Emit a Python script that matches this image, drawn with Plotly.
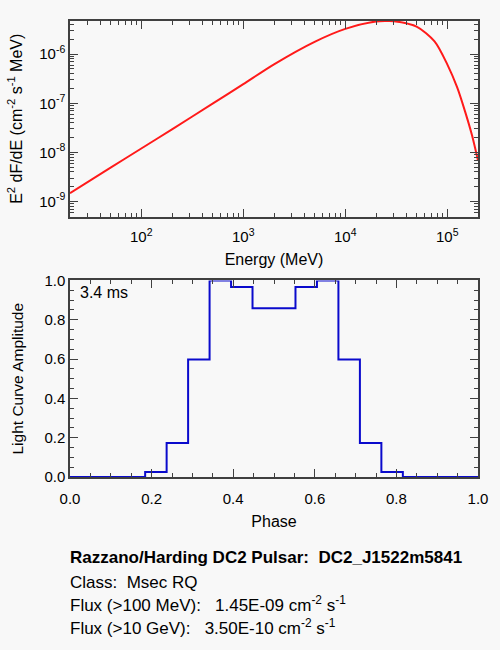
import numpy as np
import plotly.graph_objects as go

# spectrum
energy_mev = [20, 50, 100, 200, 500, 1000, 2000, 5000, 10000, 20000, 25000,
              30000, 50000, 75000, 100000, 125000, 150000, 175000, 200000]
e2dfde = [1.48e-9, 4.9e-9, 1.2e-8, 2.95e-8, 9.8e-8, 2.45e-7, 6.2e-7, 1.78e-6,
          3.27e-6, 4.62e-6, 4.72e-6, 4.68e-6, 3.63e-6, 1.82e-6, 6.2e-7, 2.1e-7,
          6.6e-8, 2.2e-8, 6.8e-9]

# light curve, 20 points at k/19
phase = [k / 19 for k in range(20)]
amplitude = [0, 0, 0, 0, 0.025, 0.173, 0.598, 1.0, 0.967, 0.858,
             0.858, 0.967, 1.0, 0.598, 0.173, 0.025, 0, 0, 0, 0]

spec_ticks = [1e2, 1e3, 1e4, 1e5]
spec_ticktext = ["10<sup>2</sup>", "10<sup>3</sup>", "10<sup>4</sup>", "10<sup>5</sup>"]
flux_ticks = [1e-9, 1e-8, 1e-7, 1e-6]
flux_ticktext = ["10<sup>-9</sup>", "10<sup>-8</sup>", "10<sup>-7</sup>", "10<sup>-6</sup>"]

name = "DC2_J1522m5841"
pulsar_class = "Msec RQ"
flux_100mev = "1.45E-09"
flux_10gev = "3.50E-10"
period = "3.4 ms"

FONT = "Liberation Sans, Arial, Helvetica, sans-serif"
BG = "#f8f8f8"
AX = "#404040"

fig = go.Figure()

fig.add_trace(
    go.Scatter(
        x=energy_mev,
        y=e2dfde,
        mode="lines",
        line=dict(color="#ff1a1a", width=2, shape="spline", smoothing=0.8),
        xaxis="x",
        yaxis="y",
        showlegend=False,
    )
)
fig.add_trace(
    go.Scatter(
        x=phase,
        y=amplitude,
        mode="lines",
        line=dict(color="#0a0acc", width=2, shape="hvh"),
        xaxis="x2",
        yaxis="y2",
        showlegend=False,
    )
)

minor_x = [m * 10 ** d for d in range(1, 6) for m in range(2, 10)]
minor_y = [m * 10 ** d for d in range(-10, -5) for m in range(2, 10)]

axis_common = dict(
    showgrid=False,
    zeroline=False,
    showline=True,
    linecolor=AX,
    linewidth=1.5,
    mirror="ticks",
    ticks="inside",
    tickcolor=AX,
    ticklen=8,
    tickfont=dict(size=15, color="black"),
)
minor_common = dict(ticks="inside", ticklen=4, tickcolor=AX, showgrid=False)

fig.update_layout(
    width=500,
    height=650,
    paper_bgcolor=BG,
    plot_bgcolor=BG,
    font=dict(family=FONT, size=15, color="black"),
    margin=dict(l=70, r=15, t=13, b=173),
    xaxis=dict(
        axis_common,
        type="log",
        range=[np.log10(20), np.log10(2e5)],
        domain=[0, 1],
        anchor="y",
        tickmode="array",
        tickvals=spec_ticks,
        ticktext=spec_ticktext,
        ticklabelstandoff=6,
        minor=dict(minor_common, tickmode="array", tickvals=minor_x),
        title=dict(text="Energy (MeV)", font=dict(size=16), standoff=9),
    ),
    yaxis=dict(
        axis_common,
        type="log",
        range=[np.log10(4.94e-10), np.log10(4.72e-6)],
        domain=[0.5711, 1],
        anchor="x",
        tickmode="array",
        tickvals=flux_ticks,
        ticktext=flux_ticktext,
        minor=dict(minor_common, tickmode="array", tickvals=minor_y),
        title=dict(
            text="E<sup>2</sup> dF/dE (cm<sup>-2</sup> s<sup>-1</sup> MeV)",
            font=dict(size=16),
            standoff=13,
        ),
    ),
    xaxis2=dict(
        axis_common,
        range=[0, 1],
        domain=[0, 1],
        anchor="y2",
        dtick=0.2,
        tickformat=".1f",
        ticklabelstandoff=7,
        minor=dict(minor_common, dtick=0.05),
        title=dict(text="Phase", font=dict(size=16), standoff=10),
    ),
    yaxis2=dict(
        axis_common,
        range=[0, 1],
        domain=[0, 0.431],
        anchor="x2",
        dtick=0.2,
        tickformat=".1f",
        minor=dict(minor_common, dtick=0.05),
        title=dict(text="Light Curve Amplitude", font=dict(size=15.5), standoff=17),
    ),
)

fig.add_annotation(
    text=period, xref="x2", yref="y2", x=0.02, y=0.94,
    xanchor="left", yanchor="middle", showarrow=False, font=dict(size=16),
)

info = [
    ("<b>Razzano/Harding DC2 Pulsar:  %s</b>" % name, 559),
    ("Class:  %s" % pulsar_class, 584),
    ("Flux (>100 MeV):   %s cm<sup>-2</sup> s<sup>-1</sup>" % flux_100mev, 606),
    ("Flux (>10 GeV):   %s cm<sup>-2</sup> s<sup>-1</sup>" % flux_10gev, 630),
]
for txt, ypix in info:
    fig.add_annotation(
        text=txt, xref="paper", yref="paper",
        x=(68 - 70) / 415, y=(477 - ypix) / 464,
        xanchor="left", yanchor="middle", showarrow=False,
        font=dict(size=17), align="left",
    )

fig.write_html(
    "out.html",
    config={"displayModeBar": False},
    post_script="document.body.style.margin='0px';",
)
